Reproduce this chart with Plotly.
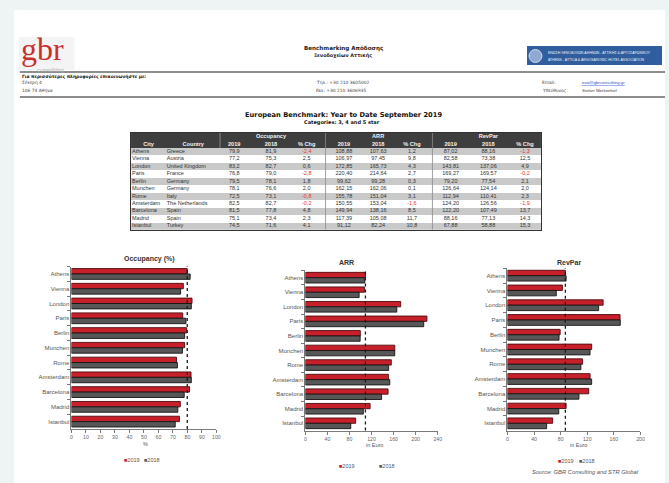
import plotly.graph_objects as go

W, H = 669, 483

# ---------------- data ----------------
cities = ["Athens", "Vienna", "London", "Paris", "Berlin", "Munchen", "Rome",
          "Amsterdam", "Barcelona", "Madrid", "Istanbul"]
countries = ["Greece", "Austria", "United Kingdom", "France", "Germany", "Germany",
             "Italy", "The Netherlands", "Spain", "Spain", "Turkey"]
occ_2019 = [79.9, 77.2, 83.2, 76.8, 79.5, 78.1, 72.5, 82.5, 81.5, 75.1, 74.5]
occ_2018 = [81.9, 75.3, 82.7, 79.0, 78.1, 76.6, 73.1, 82.7, 77.8, 73.4, 71.6]
occ_chg = [-2.4, 2.5, 0.6, -2.8, 1.8, 2.0, -0.8, -0.2, 4.8, 2.3, 4.1]
arr_2019 = [108.88, 106.97, 172.85, 220.40, 99.62, 162.15, 155.78, 150.55, 149.94, 117.39, 91.12]
arr_2018 = [107.63, 97.45, 165.73, 214.64, 99.28, 162.06, 151.04, 153.04, 138.16, 105.08, 82.24]
arr_chg = [1.2, 9.8, 4.3, 2.7, 0.3, 0.1, 3.1, -1.6, 8.5, 11.7, 10.8]
rev_2019 = [87.02, 82.58, 143.81, 169.27, 79.20, 126.64, 112.94, 124.20, 122.20, 88.16, 67.88]
rev_2018 = [88.16, 73.38, 137.06, 169.57, 77.54, 124.14, 110.41, 126.56, 107.49, 77.13, 58.88]
rev_chg = [-1.3, 12.5, 4.9, -0.2, 2.1, 2.0, 2.3, -1.9, 13.7, 14.3, 15.3]

group_headers = ["Occupancy", "ARR", "RevPar"]
sub_headers = ["2019", "2018", "% Chg"]
years = ["2019", "2018"]
occ_ticks = [0, 10, 20, 30, 40, 50, 60, 70, 80, 90, 100]
arr_ticks = [0, 40, 80, 120, 160, 200, 240]
rev_ticks = [0, 40, 80, 120, 160, 200]

# ---------------- style ----------------
SANS = "Liberation Sans, Arial, sans-serif"
VERD = "DejaVu Sans, Verdana, sans-serif"
SERIF = "Liberation Serif, Times New Roman, serif"
RED, RED_LINE = "#c8202b", "#4e0a0d"
GRAY, GRAY_LINE = "#575757", "#151515"
NEG = "#ee3030"
TXT = "#333333"


def PX(x):
    return x / W


def PY(y):
    return 1 - y / H


def fmt(v, d):
    return f"{v:.{d}f}".replace(".", ",")


fig = go.Figure()
annotations = []
shapes = []


def ann(text, x, y, size, color=TXT, family=SANS, xanchor="center", bold=False, italic=False):
    if bold:
        text = "<b>" + text + "</b>"
    if italic:
        text = "<i>" + text + "</i>"
    annotations.append(dict(text=text, x=PX(x), y=PY(y), xref="paper", yref="paper",
                            showarrow=False, xanchor=xanchor, yanchor="middle",
                            font=dict(size=size, color=color, family=family)))


# ---------------- page ----------------
shapes.append(dict(type="rect", xref="paper", yref="paper", x0=PX(13), x1=1.0,
                   y0=0, y1=PY(10), fillcolor="white", line=dict(width=0), layer="below"))
# logo
shapes.append(dict(type="rect", xref="paper", yref="paper", x0=PX(18), x1=PX(74),
                   y0=PY(70), y1=PY(37), fillcolor="#f4f4f4", line=dict(width=0), layer="below"))
ann("gbr", 18, 49, 32, color="#c9302c", family=SERIF, xanchor="left")
ann("consulting", 34, 69.5, 6.5, color="#a8a8a8", family=SERIF, xanchor="left")

# association banner
shapes.append(dict(type="rect", xref="paper", yref="paper", x0=PX(530), x1=PX(666),
                   y0=PY(65), y1=PY(46), fillcolor="#2f5d9e", line=dict(width=0), layer="below"))
shapes.append(dict(type="circle", xref="paper", yref="paper", x0=PX(532), x1=PX(545),
                   y0=PY(62.5), y1=PY(49.5), fillcolor="#8fa9d2", line=dict(color="#e8eef7", width=0.8),
                   layer="below"))
ann("ΕΝΩΣΗ ΞΕΝΟΔΟΧΩΝ ΑΘΗΝΩΝ - ΑΤΤΙΚΗΣ &amp; ΑΡΓΟΣΑΡΩΝΙΚΟΥ", 549, 53, 3.5, color="#eef2fa", xanchor="left")
ann("ATHENS - ATTICA &amp; ARGOSARONIC HOTEL ASSOCIATION", 549, 60, 3.5, color="#eef2fa", xanchor="left")

ann("Benchmarking Απόδοσης", 345, 48.5, 5.6, color="#222", family=VERD, bold=True)
ann("Ξενοδοχείων Αττικής", 345, 55.5, 4.9, color="#222", family=VERD, bold=True)

for yl in (72, 97):
    shapes.append(dict(type="line", xref="paper", yref="paper", x0=PX(19), x1=1.0,
                       y0=PY(yl), y1=PY(yl), line=dict(color="#1e1e1e", width=1.2)))

ann("Για περισσότερες πληροφορίες επικοινωνήστε με:", 19, 76, 4.4, color="#111", family=VERD,
    xanchor="left", bold=True)
ann("Σέκερη 4", 19, 82.5, 4.4, color="#444", family=VERD, xanchor="left")
ann("106 74 Αθήνα", 19, 90, 4.4, color="#444", family=VERD, xanchor="left")
ann("Τηλ.: +30 210 3605002", 315, 82.5, 4.4, color="#444", family=VERD, xanchor="left")
ann("Fax: +30 210 3606935", 315, 90, 4.4, color="#444", family=VERD, xanchor="left")
ann("Email:", 543, 82.5, 4.4, color="#444", family=VERD, xanchor="left")
ann("Υπεύθυνος:", 543, 90, 4.4, color="#444", family=VERD, xanchor="left")
ann('<span style="text-decoration:underline">exa@gbrconsulting.gr</span>', 583, 82.5, 4.4,
    color="#2a4fd0", family=SANS, xanchor="left")
ann("Stefan Merkenhof", 583, 91, 4.4, color="#444", family=SANS, xanchor="left")

ann("European Benchmark: Year to Date September 2019", 345, 115.3, 6.7, color="#111",
    family=VERD, bold=True)
ann("Categories: 3, 4 and 5 star", 344, 122.3, 5.0, color="#111", family=VERD, bold=True)

# ---------------- table ----------------
TX0, TX1, TY0, TY1 = 131, 544, 133, 229.7
n = len(cities)
z = [[0], [0]] + [[1] if i % 2 == 0 else [2] for i in range(n)]
fig.add_trace(go.Heatmap(z=z, x0=(TX0 + TX1) / 2, dx=TX1 - TX0, y0=-2, dy=1,
                         colorscale=[[0, "#3e3e3e"], [0.5, "#c9c9c9"], [1, "#ffffff"]],
                         zmin=0, zmax=2, showscale=False, xaxis="x4", yaxis="y4",
                         hoverinfo="skip"))

rows = list(range(n))
col_centers = [[235, 272, 308], [345.5, 380, 414], [453, 491, 528]]
metric_cols = [
    ([fmt(v, 1) for v in occ_2019], [fmt(v, 1) for v in occ_2018], occ_chg),
    ([fmt(v, 2) for v in arr_2019], [fmt(v, 2) for v in arr_2018], arr_chg),
    ([fmt(v, 2) for v in rev_2019], [fmt(v, 2) for v in rev_2018], rev_chg),
]
CELL = 5.5


def table_text(xs, ys, texts, colors, pos="middle center", size=CELL, family=SANS):
    fig.add_trace(go.Scatter(x=xs, y=ys, mode="text", text=texts, textposition=pos,
                             textfont=dict(size=size, color=colors, family=family),
                             xaxis="x4", yaxis="y4", hoverinfo="skip", cliponaxis=False))


table_text([132] * n, rows, cities, TXT, pos="middle right")
table_text([167] * n, rows, countries, TXT, pos="middle right")
for centers, (c19, c18, chg) in zip(col_centers, metric_cols):
    table_text([centers[0]] * n, rows, c19, TXT)
    table_text([centers[1]] * n, rows, c18, TXT)
    table_text([centers[2]] * n, rows, [fmt(v, 1) for v in chg],
               [NEG if v < 0 else TXT for v in chg])

# header texts
hx = [148.7, 193.7]
hy = [-1, -1]
ht = ["<b>City</b>", "<b>Country</b>"]
for g, centers in zip(group_headers, col_centers):
    hx.append(centers[1]); hy.append(-2); ht.append("<b>" + g + "</b>")
    for s, cx in zip(sub_headers, centers):
        hx.append(cx); hy.append(-1); ht.append("<b>" + s + "</b>")
table_text(hx, hy, ht, "#f2f2f2", size=5.6)

# table separators
shapes.append(dict(type="line", xref="x4", yref="y4", x0=220.7, x1=220.7, y0=-2.5, y1=-0.5,
                   line=dict(color="#9a9a9a", width=0.8)))
for sx in (327, 434.7):
    shapes.append(dict(type="line", xref="x4", yref="y4", x0=sx, x1=sx, y0=-2.5, y1=n - 0.5,
                       line=dict(color="#8a8a8a", width=0.8)))

# ---------------- bar charts ----------------
charts = [
    dict(ax="", title="Occupancy (%)", v19=occ_2019, v18=occ_2018, ticks=occ_ticks,
         xr=[0, 100], dom_x=(71, 217), dom_y=(266.6, 429), title_xy=(149.5, 258.5),
         unit="%", unit_xy=(145.5, 443.5), leg=(131.5, 152.5, 459.5)),
    dict(ax="2", title="ARR", v19=arr_2019, v18=arr_2018, ticks=arr_ticks,
         xr=[0, 240], dom_x=(306.7, 440), dom_y=(270.4, 430.6), title_xy=(347.7, 262.5),
         unit="in Euro", unit_xy=(376, 445), leg=(349, 389, 465.5)),
    dict(ax="3", title="RevPar", v19=rev_2019, v18=rev_2018, ticks=rev_ticks,
         xr=[0, 200], dom_x=(510.3, 644.3), dom_y=(268.3, 430.7), title_xy=(572, 262.5),
         unit="in Euro", unit_xy=(581.7, 444.5), leg=(569, 590, 460.5)),
]

layout_axes = {}
for c in charts:
    xa = "x" + c["ax"]
    ya = "y" + c["ax"]
    fig.add_trace(go.Bar(y=cities, x=c["v19"], orientation="h", name=years[0],
                         marker=dict(color=RED, line=dict(color=RED_LINE, width=0.9)),
                         xaxis=xa, yaxis=ya, hoverinfo="skip"))
    fig.add_trace(go.Bar(y=cities, x=c["v18"], orientation="h", name=years[1],
                         marker=dict(color=GRAY, line=dict(color=GRAY_LINE, width=0.9)),
                         xaxis=xa, yaxis=ya, hoverinfo="skip"))
    layout_axes["xaxis" + c["ax"]] = dict(
        domain=[PX(c["dom_x"][0]), PX(c["dom_x"][1])], range=c["xr"], anchor=ya,
        tickvals=c["ticks"], showgrid=False, zeroline=False, showline=True,
        linecolor="#7a7a7a", linewidth=1, ticks="outside", ticklen=3, tickcolor="#7a7a7a",
        tickfont=dict(size=5.2, color="#666", family=SANS), fixedrange=True)
    layout_axes["yaxis" + c["ax"]] = dict(
        domain=[PY(c["dom_y"][1]), PY(c["dom_y"][0])], anchor=xa, autorange="reversed",
        type="category", showgrid=False, zeroline=False, showline=True,
        linecolor="#7a7a7a", linewidth=1, ticks="outside", ticklen=3, tickcolor="#7a7a7a",
        tickson="boundaries", tickfont=dict(size=6, color="#555", family=SANS),
        fixedrange=True)
    # reference line at the Athens 2019 value
    shapes.append(dict(type="line", xref=xa, yref=ya + " domain", x0=c["v19"][0], x1=c["v19"][0],
                       y0=0, y1=1.0, line=dict(color="#1a1a1a", width=1.3, dash="dot")))
    ann(c["title"], c["title_xy"][0], c["title_xy"][1], 7, color="#333", bold=True)
    ann(c["unit"], c["unit_xy"][0], c["unit_xy"][1], 5.5, color="#555")
    lx19, lx18, ly = c["leg"]
    ann(f'<span style="color:{RED}">■</span>{years[0]}', lx19, ly, 5.5, color="#555")
    ann(f'<span style="color:{GRAY}">■</span>{years[1]}', lx18, ly, 5.5, color="#555")

ann("Source: GBR Consulting and STR Global", 589, 471.7, 5.8, color="#555", italic=True)

layout_axes["xaxis4"] = dict(domain=[PX(TX0), PX(TX1)], range=[TX0, TX1], anchor="y4",
                             showgrid=False, zeroline=False, showticklabels=False, ticks="",
                             showline=True, mirror=True, linecolor="#333", linewidth=1,
                             fixedrange=True)
layout_axes["yaxis4"] = dict(domain=[PY(TY1), PY(TY0)], range=[n - 0.5, -2.5], anchor="x4",
                             showgrid=False, zeroline=False, showticklabels=False, ticks="",
                             showline=True, mirror=True, linecolor="#333", linewidth=1,
                             fixedrange=True)

fig.update_layout(
    width=W, height=H, margin=dict(l=0, r=0, t=0, b=0),
    paper_bgcolor="#eef3f4", plot_bgcolor="rgba(0,0,0,0)",
    showlegend=False, barmode="group", bargap=0.27, bargroupgap=0,
    separators=",.",
    annotations=annotations, shapes=shapes,
    **layout_axes,
)

fig.write_html("out.html", config={"displayModeBar": False},
               post_script="document.body.style.margin='0';document.body.style.overflow='hidden';")
